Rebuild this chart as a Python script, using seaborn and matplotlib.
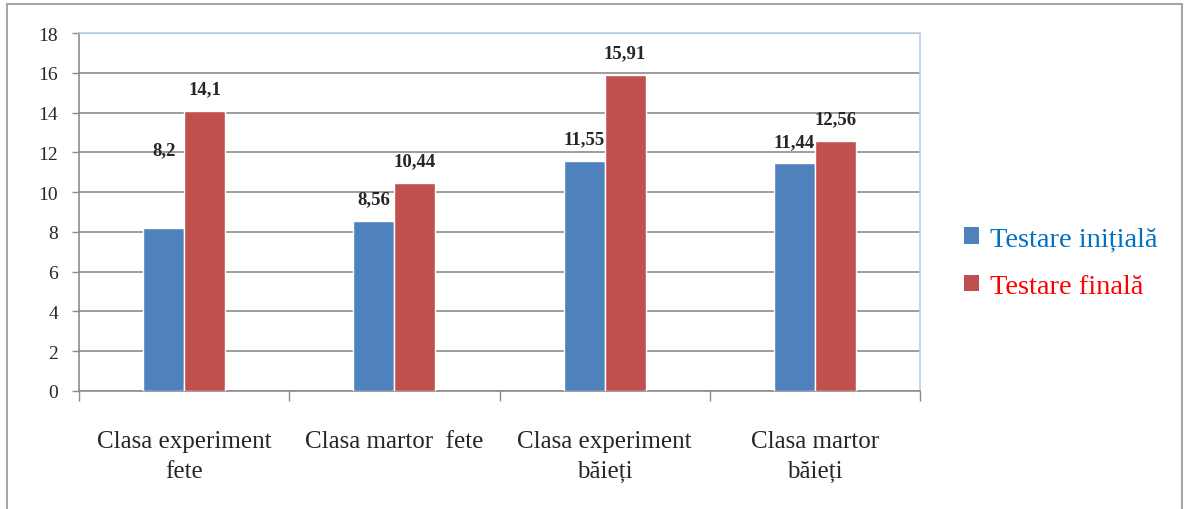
import matplotlib
matplotlib.use("Agg")
import matplotlib.pyplot as plt
from matplotlib.patches import Patch, Rectangle
import numpy as np
import pandas as pd
import seaborn as sns

# data
categories = ["Clasa experiment\nfete", "Clasa martor  fete",
              "Clasa experiment\nbăieți", "Clasa martor\nbăieți"]
series_names = ["Testare inițială", "Testare finală"]
initial_vals = [8.2, 8.56, 11.55, 11.44]
final_vals = [14.1, 10.44, 15.91, 12.56]
y_ticks = [0, 2, 4, 6, 8, 10, 12, 14, 16, 18]

bar_colors = ["#4F81BD", "#C0504D"]
legend_text_colors = ["#0070C0", "#FF0000"]

df = pd.DataFrame({
    "Clasa": categories * 2,
    "Testare": [series_names[0]] * 4 + [series_names[1]] * 4,
    "Scor": initial_vals + final_vals,
})

sns.set_style("white")
plt.rcParams["font.family"] = ["Liberation Serif", "DejaVu Serif"]

fig = plt.figure(figsize=(11.91, 5.10), dpi=100)
ax = fig.add_axes([79 / 1191, 1 - 392 / 510, (920 - 79) / 1191, (392 - 34) / 510])

sns.barplot(data=df, x="Clasa", y="Scor", hue="Testare", order=categories,
            hue_order=series_names, palette=bar_colors, width=0.39,
            saturation=1, legend=False, ax=ax, zorder=3)

# value labels above bars (the 8,2 label sits higher in the original)
for ci, cont in enumerate(ax.containers):
    vals = initial_vals if ci == 0 else final_vals
    for rect, v in zip(cont.patches, vals):
        off = 56 if (ci == 0 and v == 8.2) else 16
        txt = f"{v:g}".replace(".", ",")
        ax.annotate(txt, (rect.get_x() + rect.get_width() / 2, rect.get_height()),
                    xytext=(0, off), textcoords="offset points",
                    ha="center", va="center", fontsize=13.5, fontweight="bold")

ax.set_ylim(0, 18)
ax.set_xlim(-0.5, len(categories) - 0.5)
ax.set_yticks(y_ticks)
ax.set_yticklabels([str(t) for t in y_ticks], fontsize=14)
ax.yaxis.grid(True, color="#8c8c8c", linewidth=1.2, zorder=0)
ax.set_axisbelow(True)
ax.tick_params(axis="y", which="major", length=5, width=1, color="#8c8c8c",
               direction="out", left=True, pad=10)

ax.set_xticks(range(len(categories)))
ax.set_xticklabels(categories, fontsize=18, linespacing=1.5, va="top")
ax.tick_params(axis="x", which="major", length=0, pad=28)
ax.set_xticks(np.arange(-0.5, len(categories), 1), minor=True)
ax.tick_params(axis="x", which="minor", length=7, width=1, color="#8c8c8c",
               direction="out", bottom=True)
ax.set_xlabel("")
ax.set_ylabel("")

for side in ["left", "bottom"]:
    ax.spines[side].set_color("#8c8c8c")
    ax.spines[side].set_linewidth(1.2)
for side in ["top", "right"]:
    ax.spines[side].set_visible(True)
    ax.spines[side].set_color("#b9cde5")
    ax.spines[side].set_linewidth(1.2)

handles = [Patch(facecolor=c, edgecolor="none") for c in bar_colors]
leg = fig.legend(handles, series_names, loc="center left",
                 bbox_to_anchor=(953 / 1191, 1 - 264 / 510), frameon=False,
                 fontsize=20.5, handlelength=0.5, handleheight=0.5,
                 handletextpad=0.4, labelspacing=0.8, borderaxespad=0)
for t, c in zip(leg.get_texts(), legend_text_colors):
    t.set_color(c)

# outer chart border
fig.patches.append(Rectangle((7 / 1191, -0.02), (1182 - 7) / 1191, 1 - 5 / 510 + 0.02,
                             transform=fig.transFigure, fill=False,
                             edgecolor="#a6a6a6", linewidth=1.5))

fig.savefig("out.png", dpi=100)
